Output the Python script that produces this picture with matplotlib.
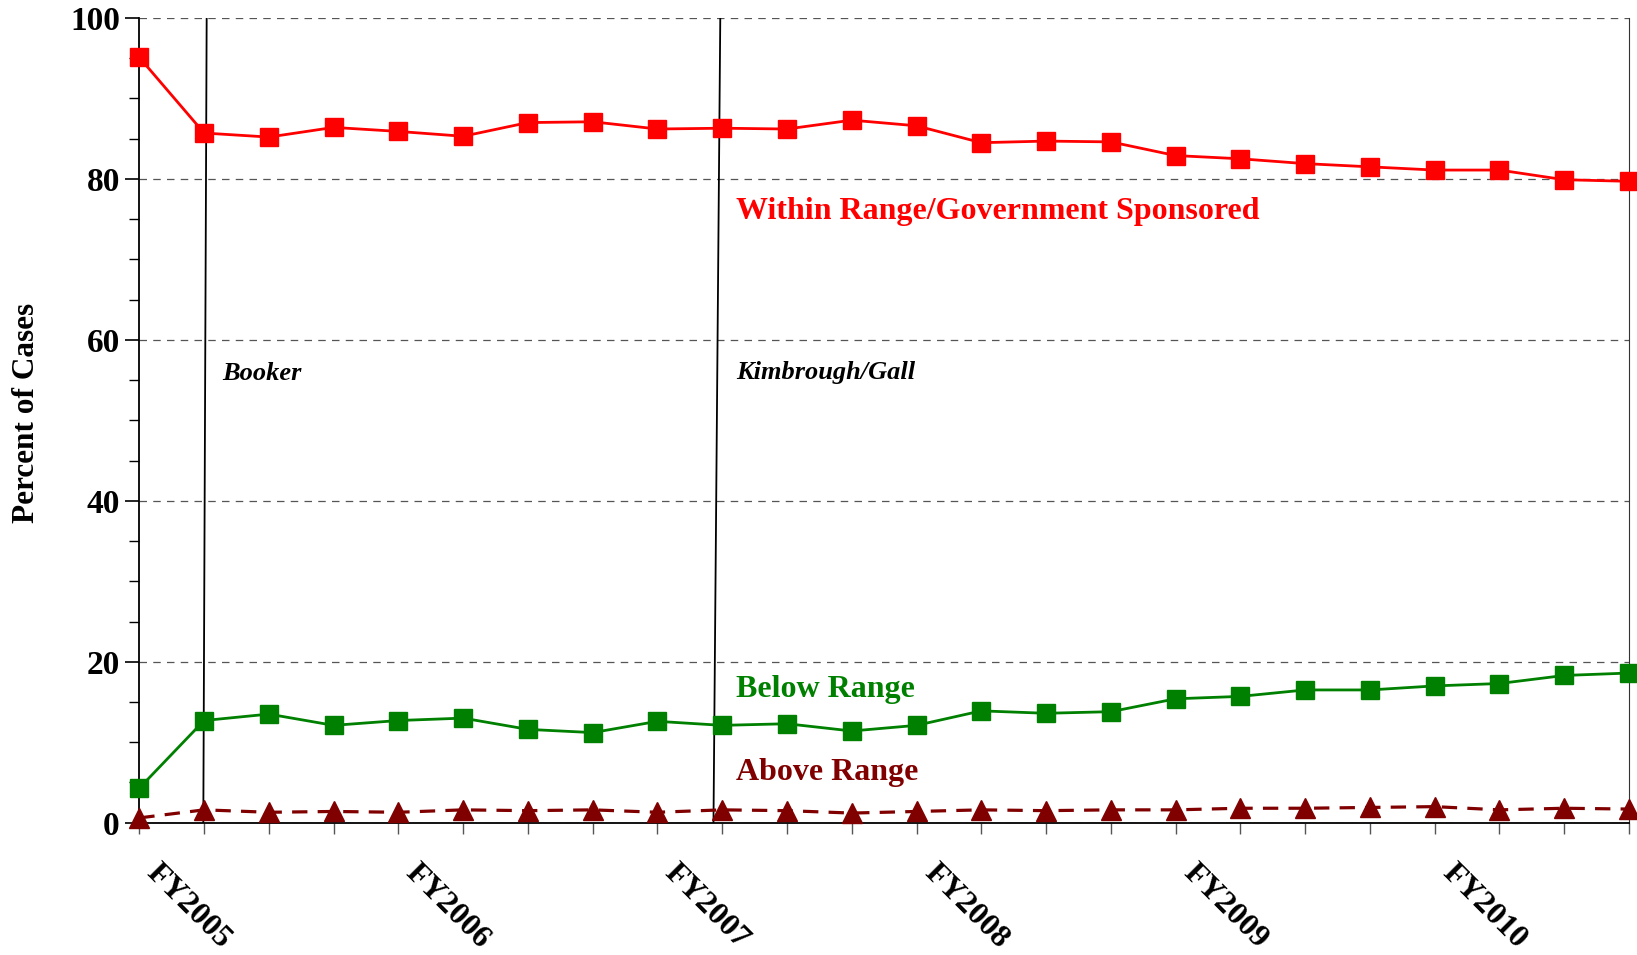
import matplotlib
matplotlib.use('Agg')
import matplotlib.pyplot as plt
from matplotlib.transforms import ScaledTranslation

plt.rcParams['font.family'] = ['Liberation Serif', 'DejaVu Serif']

# quarterly data, FY2005 Q1 .. FY2010 Q4
quarters = list(range(24))
tick_labels = ['FY2005', '', '', '', 'FY2006', '', '', '', 'FY2007', '', '', '',
               'FY2008', '', '', '', 'FY2009', '', '', '', 'FY2010', '', '', '']
within_range = [95.1, 85.7, 85.2, 86.4, 85.9, 85.3, 87.0, 87.1, 86.2, 86.3, 86.2, 87.3,
                86.6, 84.5, 84.7, 84.6, 82.9, 82.5, 81.9, 81.5, 81.1, 81.1, 79.9, 79.7]
below_range = [4.3, 12.7, 13.5, 12.1, 12.7, 13.0, 11.6, 11.2, 12.6, 12.1, 12.3, 11.4,
               12.1, 13.9, 13.6, 13.8, 15.4, 15.7, 16.5, 16.5, 17.0, 17.3, 18.3, 18.6]
above_range = [0.6, 1.6, 1.3, 1.4, 1.3, 1.6, 1.5, 1.6, 1.3, 1.6, 1.5, 1.2,
               1.4, 1.6, 1.5, 1.6, 1.6, 1.8, 1.8, 1.9, 2.0, 1.6, 1.8, 1.7]

fig = plt.figure(figsize=(16.37, 9.55), dpi=100)
ax = fig.add_axes([0.0851, 0.1385, 0.91, 0.8427])

ax.plot(quarters, within_range, color='#ff0000', lw=2, marker='s', markersize=13,
        clip_on=False, zorder=4)
ax.plot(quarters, below_range, color='#008000', lw=2, marker='s', markersize=13,
        clip_on=False, zorder=4)
ax.plot(quarters, above_range, color='#800000', lw=2.3, marker='^', markersize=14,
        dashes=(4.8, 3.2), clip_on=False, zorder=4)

# event lines (Booker, Kimbrough/Gall)
ax.plot([1.04, 0.988], [100, 0], color='black', lw=1.3, zorder=3)
ax.plot([8.97, 8.865], [100, 0], color='black', lw=1.3, zorder=3)

ax.text(1.28, 55.8, 'Booker', fontsize=19, fontweight='bold', fontstyle='italic',
        va='center', ha='left')
ax.text(9.21, 55.9, 'Kimbrough/Gall', fontsize=19, fontweight='bold', fontstyle='italic',
        va='center', ha='left')
ax.text(9.21, 76.0, 'Within Range/Government Sponsored', fontsize=23, fontweight='bold',
        color='#ff0000', va='center', ha='left')
ax.text(9.21, 16.5, 'Below Range', fontsize=23, fontweight='bold',
        color='#008000', va='center', ha='left')
ax.text(9.21, 6.2, 'Above Range', fontsize=23, fontweight='bold',
        color='#800000', va='center', ha='left')

ax.set_xlim(0, 23)
ax.set_ylim(0, 100)
ax.set_yticks([0, 20, 40, 60, 80, 100])
ax.set_yticks(range(0, 101, 5), minor=True)
ax.set_xticks(quarters)
ax.set_xticklabels([])

# rotated year labels, shifted a little right of their ticks
offset = ScaledTranslation(0.22, -0.36, fig.dpi_scale_trans)
for q, lab in zip(quarters, tick_labels):
    if lab:
        ax.text(q, 0, lab, transform=ax.get_xaxis_transform() + offset,
                rotation=-45, rotation_mode='anchor', ha='left', va='top',
                fontsize=23, fontweight='bold')

for lab in ax.get_yticklabels():
    lab.set_fontweight('bold')
    lab.set_fontsize(24)
ax.tick_params(axis='y', which='major', length=10, width=1.2, pad=4)
ax.tick_params(axis='y', which='minor', length=7, width=1)
ax.tick_params(axis='x', length=8, width=1, color='#555555')

ax.yaxis.grid(True, linestyle=(0, (6, 5)), color='#555555', lw=0.9)
ax.set_axisbelow(True)
ax.spines['top'].set_visible(False)
ax.spines['right'].set_color('#333333')
ax.spines['left'].set_linewidth(1.3)
ax.spines['bottom'].set_linewidth(1.3)

ax.set_ylabel('Percent of Cases', fontsize=22.5, fontweight='bold')
ax.yaxis.set_label_coords(-0.066, 0.509)

fig.savefig('out.png', dpi=100)
